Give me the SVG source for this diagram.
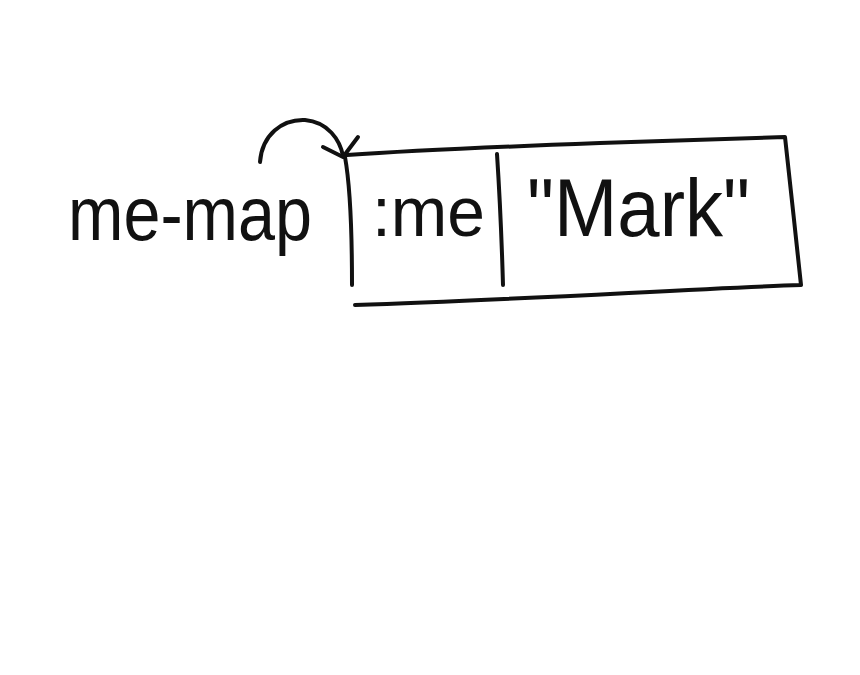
<svg xmlns="http://www.w3.org/2000/svg" width="860" height="675" viewBox="0 0 860 675">
<defs>
<style>
.ink{fill:none;stroke:#111;stroke-width:4;stroke-linecap:round;stroke-linejoin:round}
.txt{font-family:"Liberation Sans","DejaVu Sans",sans-serif;fill:#111}
</style>
</defs>
<rect width="860" height="675" fill="#fff"/>
<g id="label-me-map">
<text class="txt" x="68" y="240" font-size="76" textLength="244" lengthAdjust="spacingAndGlyphs">me-map</text>
</g>
<g id="node-map">
<path class="ink" d="M347,155 C420,150 520,146 600,143 C680,140 740,138 785,137 C790,180 796,240 801,285 C700,288 520,300 355,305"/>
<path class="ink" d="M345,157 C351,190 352,240 352,285"/>
<path class="ink" d="M497,154 C500,200 502,250 503,285"/>
<text class="txt" x="372" y="236" font-size="70" textLength="113" lengthAdjust="spacingAndGlyphs">:me</text>
<text class="txt" x="527" y="236" font-size="82" textLength="223" lengthAdjust="spacingAndGlyphs">"Mark"</text>
</g>
<g id="connectors">
<path class="ink" d="M260,162 C262,135 282,119 305,120 C328,122 340,140 343,156"/>
<path class="ink" d="M323,147 L343,157 L358,137"/>
</g>
</svg>
